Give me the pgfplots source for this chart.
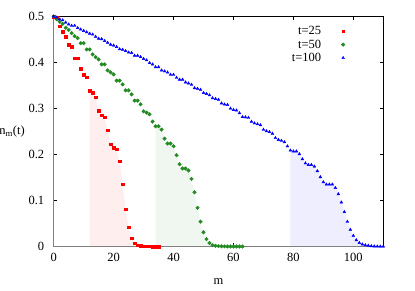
\documentclass[border=0pt]{standalone}
\usepackage{fontspec}
\setmainfont{Liberation Serif}
\usepackage{pgfplots}
\usepackage{pgfplotstable}
\pgfplotsset{compat=1.18}
\definecolor{myred}{RGB}{255,0,0}
\definecolor{mygreen}{RGB}{34,139,34}
\definecolor{myblue}{RGB}{0,0,255}
\definecolor{pinkfill}{RGB}{255,238,238}
\definecolor{greenfill}{RGB}{240,247,240}
\definecolor{bluefill}{RGB}{238,238,255}
\pgfplotsset{mylegend/.style={legend image code/.code={\path[draw=none,fill=none] (0pt,0pt) -- (24pt,0pt); \draw[##1] plot coordinates {(20pt,0pt)};}}}
\pgfplotstableread{
m n
0 0.5
1 0.497
2 0.479
3 0.467
4 0.456
5 0.439
6 0.434
7 0.409
8 0.409
9 0.386
10 0.374
11 0.368
12 0.339
13 0.334
14 0.325
15 0.295
16 0.285
17 0.281
18 0.253
19 0.222
20 0.215
21 0.211
22 0.185
23 0.135
24 0.081
25 0.042
26 0.018
27 0.007
28 0.003
29 0.0015
30 0.0005
31 0.0003
32 0.0002
33 0.0001
34 0.0
35 0.0
}\redt
\pgfplotstableread{
m n
0 0.5
1 0.494
2 0.4885
3 0.484
4 0.4755
5 0.4707
6 0.4638
7 0.4573
8 0.453
9 0.442
10 0.442
11 0.4284
12 0.4284
13 0.4176
14 0.4117
15 0.4067
16 0.3959
17 0.3959
18 0.3829
19 0.3785
20 0.3742
21 0.3605
22 0.3605
23 0.3525
24 0.3395
25 0.3395
26 0.3308
27 0.3171
28 0.3171
29 0.3091
30 0.2939
31 0.2911
32 0.2874
33 0.2716
34 0.2614
35 0.2614
36 0.2542
37 0.2345
38 0.2239
39 0.2239
40 0.218
41 0.1985
42 0.179
43 0.1696
44 0.1696
45 0.1653
46 0.147
47 0.118
48 0.084
49 0.054
50 0.031
51 0.016
52 0.0076
53 0.003
54 0.0015
55 0.0008
56 0.0004
57 0.0002
58 0.0001
59 0.0
60 0.0
61 0.0
62 0.0
63 0.0
}\greent
\pgfplotstableread{
m n
0 0.500
1 0.498
2 0.494
3 0.492
4 0.487
5 0.483
6 0.480
7 0.480
8 0.475
9 0.472
10 0.469
11 0.466
12 0.463
13 0.461
14 0.456
15 0.452
16 0.451
17 0.447
18 0.443
19 0.439
20 0.437
21 0.434
22 0.429
23 0.428
24 0.425
25 0.422
26 0.421
27 0.415
28 0.415
29 0.412
30 0.408
31 0.405
32 0.399
33 0.396
34 0.390
35 0.390
36 0.383
37 0.381
38 0.3785
39 0.3735
40 0.3735
41 0.367
42 0.363
43 0.363
44 0.357
45 0.3547
46 0.3518
47 0.3445
48 0.3432
49 0.341
50 0.334
51 0.332
52 0.329
53 0.3225
54 0.321
55 0.3193
56 0.3113
57 0.309
58 0.308
59 0.300
60 0.297
61 0.296
62 0.290
63 0.2816
64 0.281
65 0.280
66 0.2715
67 0.268
68 0.266
69 0.264
70 0.254
71 0.251
72 0.249
73 0.2455
74 0.236
75 0.232
76 0.230
77 0.227
78 0.218
79 0.209
80 0.207
81 0.207
82 0.201
83 0.19
84 0.181
85 0.1775
86 0.1775
87 0.174
88 0.164
89 0.151
90 0.14
91 0.135
92 0.135
93 0.135
94 0.1275
95 0.114
96 0.096
97 0.075
98 0.054
99 0.0365
100 0.0234
101 0.014
102 0.008
103 0.0048
104 0.003
105 0.002
106 0.001
107 0.0005
108 0.0003
109 0.0001
110 0.0
}\bluet
\begin{document}
\begin{tikzpicture}
\path[use as bounding box] (0,0) rectangle (415pt,291pt);
\begin{axis}[
  at={(53.7pt,44.5pt)}, anchor=south west,
  scale only axis, width=329.6pt, height=230pt,
  xmin=0, xmax=110, ymin=0, ymax=0.5,
  clip=false,
  axis line style={black, line width=0.6pt},
  xtick={0,20,40,60,80,100},
  ytick={0,0.1,0.2,0.3,0.4,0.5},
  tick align=inside, major tick length=3.5pt,
  tick style={black, line width=0.5pt},
  /pgf/number format/assume math mode=true,
  tick label style={font=\fontsize{12.5}{14}\selectfont},
  xticklabel style={yshift=-3.5pt},
  yticklabel style={xshift=-6pt},
  label style={font=\fontsize{12.5}{14}\selectfont},
  xlabel={m},
  xlabel style={at={(rel axis cs:0.5,0)}, anchor=center, yshift=-35.5pt},
  ylabel={n\textsubscript{m}(t)},
  ylabel style={rotate=-90, at={(rel axis cs:0,0.5)}, anchor=east, xshift=-25.4pt},
  legend plot pos=right,
  legend cell align=right,
  legend style={draw=none, fill=none, font=\fontsize{12.5}{14}\selectfont,
    at={(rel axis cs:0.90,0.975)}, anchor=north east, row sep=-0.5pt},
]
\addplot[fill=pinkfill, draw=none, forget plot] table[x=m,y=n, restrict x to domain=12:35] {\redt} \closedcycle;
\addplot[fill=greenfill, draw=none, forget plot] table[x=m,y=n, restrict x to domain=34:63] {\greent} \closedcycle;
\addplot[fill=bluefill, draw=none, forget plot] table[x=m,y=n, restrict x to domain=79:110] {\bluet} \closedcycle;
\draw[gray, line width=1.3pt] (axis cs:0,0.5) -- (axis cs:0,0) -- (axis cs:110,0);
\addplot[only marks, mark=square*, mark size=1.25pt, color=myred, mylegend]
  table[x=m,y=n] {\redt};
\addlegendentry{t=25}
\addplot[only marks, mark=*, mark size=1.8pt, color=mygreen, mylegend]
  table[x=m,y=n] {\greent};
\addlegendentry{t=50}
\addplot[only marks, mark=triangle*, mark size=1.6pt, color=myblue, mylegend]
  table[x=m,y=n] {\bluet};
\addlegendentry{t=100}
\end{axis}
\end{tikzpicture}
\end{document}
